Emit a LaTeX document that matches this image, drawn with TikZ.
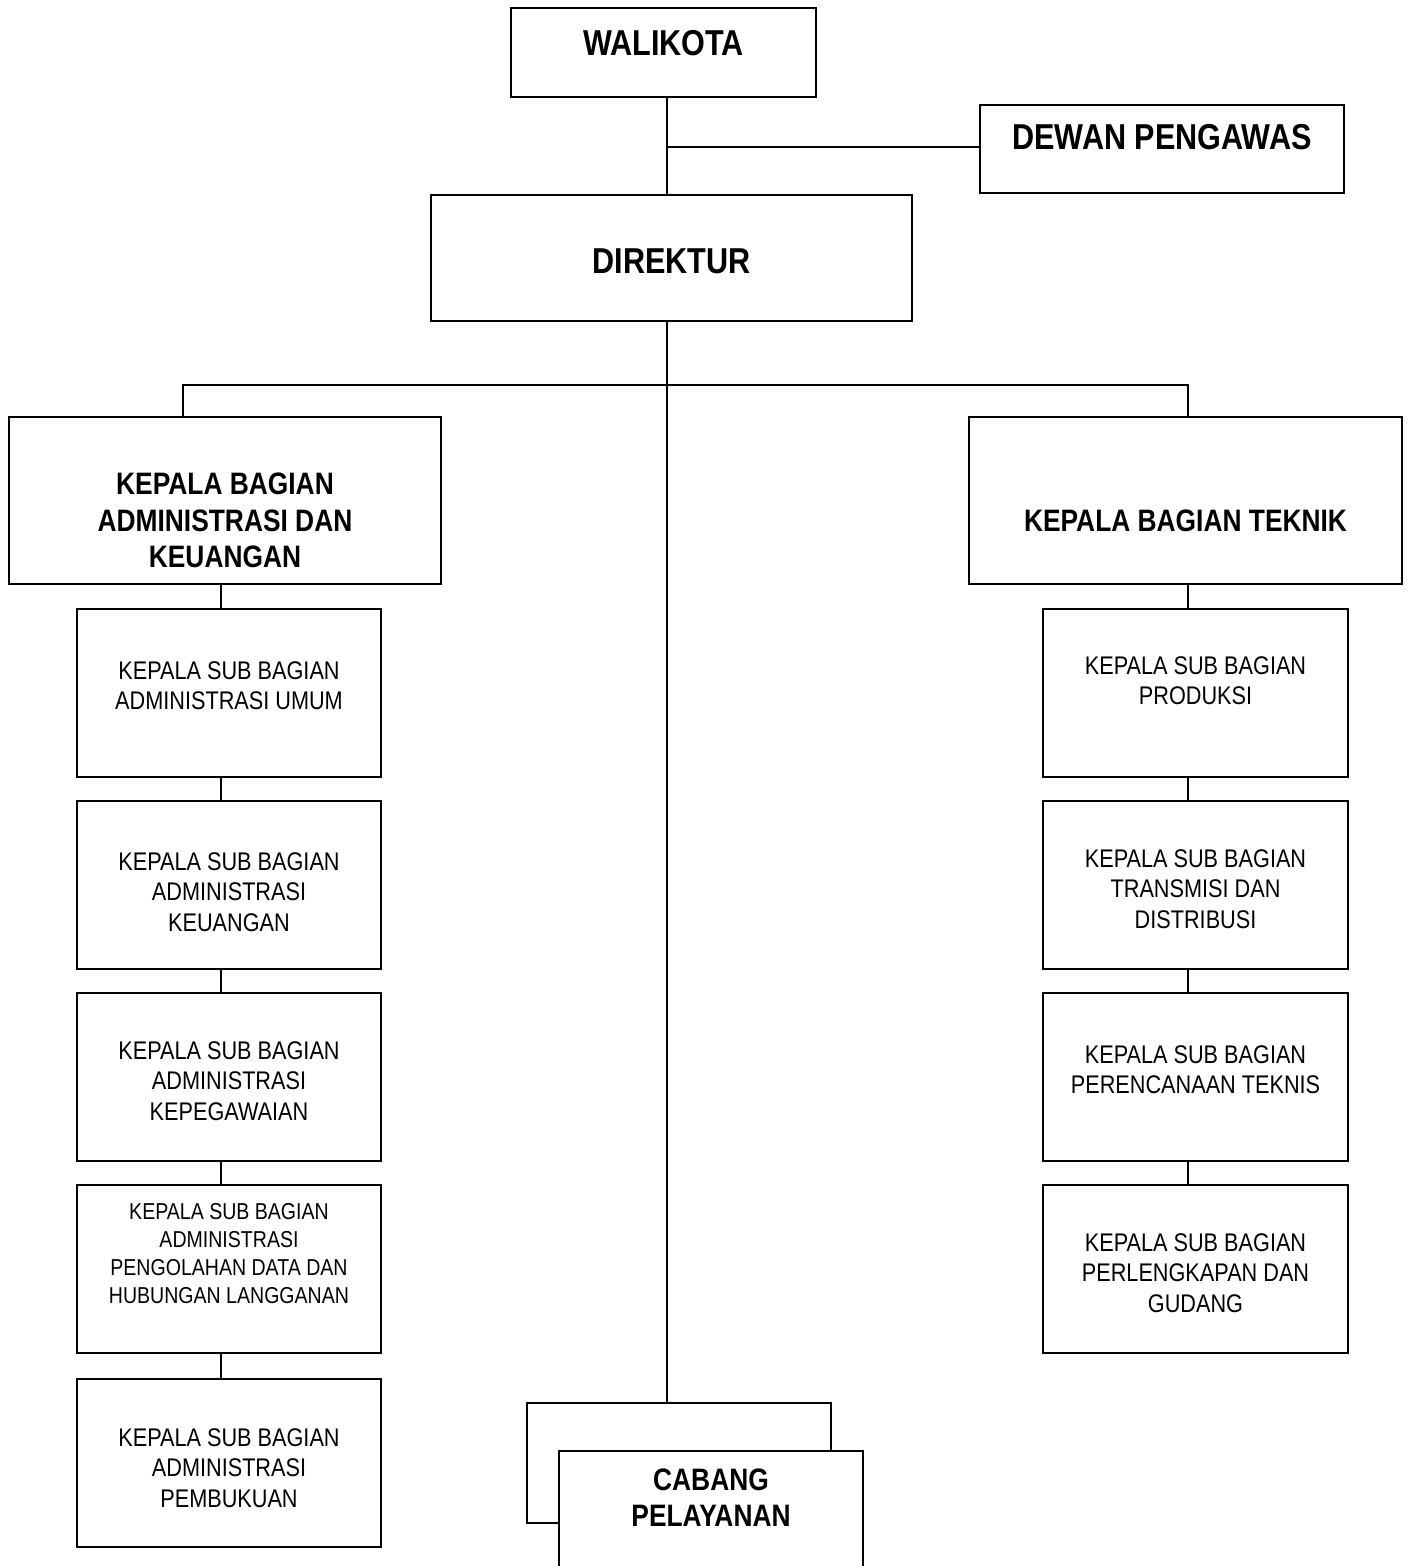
\documentclass[tikz,border=0pt]{standalone}
\usepackage{fontspec}
\setmainfont[FakeStretch=0.85]{Liberation Sans}
\usetikzlibrary{positioning}
\tikzset{
	topbox/.style={draw, rectangle, line width=1pt, align=center, fill=white, font=\bfseries\fontsize{18}{21}\selectfont},
	headbox/.style={draw, rectangle, line width=1pt, align=center, minimum width=216pt, minimum height=83.5pt, font=\bfseries\fontsize{15.5}{18.25}\selectfont},
	subbox/.style={draw, rectangle, line width=1pt, align=center, minimum width=152pt, minimum height=84pt, font=\fontsize{12.75}{15.25}\selectfont},
	% moves the text up inside its box
	lift/.style={text depth=#1},
}
% taller first line, moves the text down inside its box
\newcommand{\lowerby}[1]{\rule{0pt}{#1}}
\begin{document}
\begin{tikzpicture}[x=0.5pt, y=-0.5pt]
	\useasboundingbox (0,0) rectangle (1411,1566);
	
	\node (wali) [topbox, minimum width=152.5pt, minimum height=44.5pt, lift=10pt] at (663.5,52.5) {WALIKOTA};
	\node (dewan) [topbox, minimum width=182pt, minimum height=44pt, lift=12pt] at (1162,149) {DEWAN PENGAWAS};
	\node (dir) [topbox, minimum width=240.5pt, minimum height=63pt] at (671.5,258) {\lowerby{15.9pt}DIREKTUR};
	
	\node (kadm) [headbox] at (225,500.5) {\lowerby{31.1pt}KEPALA BAGIAN\\ADMINISTRASI DAN\\KEUANGAN};
	\node (ktek) [headbox, minimum width=216.5pt] at (1185.5,500.5) {\lowerby{31.1pt}KEPALA BAGIAN TEKNIK};
	
	% sub bagian administrasi dan keuangan
	\node (adm1) [subbox, lift=7.5pt] at (229,693) {KEPALA SUB BAGIAN\\ADMINISTRASI UMUM};
	\node (adm2) [subbox] at (229,885) {\lowerby{16.1pt}KEPALA SUB BAGIAN\\ADMINISTRASI\\KEUANGAN};
	\node (adm3) [subbox] at (229,1077) {\lowerby{13.1pt}KEPALA SUB BAGIAN\\ADMINISTRASI\\KEPEGAWAIAN};
	\node (adm4) [subbox, lift=16pt, font=\fontsize{11.5}{14}\selectfont] at (229,1269) {KEPALA SUB BAGIAN\\ADMINISTRASI\\PENGOLAHAN DATA DAN\\HUBUNGAN LANGGANAN};
	\node (adm5) [subbox] at (229,1463) {\lowerby{14.1pt}KEPALA SUB BAGIAN\\ADMINISTRASI\\PEMBUKUAN};
	
	% sub bagian teknik
	\node (tek1) [subbox, minimum width=152.5pt, lift=12.5pt] at (1195.5,693) {KEPALA SUB BAGIAN\\PRODUKSI};
	\node (tek2) [subbox, minimum width=152.5pt] at (1195.5,885) {\lowerby{13.1pt}KEPALA SUB BAGIAN\\TRANSMISI DAN\\DISTRIBUSI};
	\node (tek3) [subbox, minimum width=152.5pt, lift=7.5pt] at (1195.5,1077) {KEPALA SUB BAGIAN\\PERENCANAAN TEKNIS};
	\node (tek4) [subbox, minimum width=152.5pt] at (1195.5,1269) {\lowerby{13.1pt}KEPALA SUB BAGIAN\\PERLENGKAPAN DAN\\GUDANG};
	
	\node (cabb) [subbox, minimum height=60pt] at (679,1463) {};
	\node (cab) [topbox, minimum width=152pt, minimum height=75pt, lift=28pt, font=\bfseries\fontsize{15.5}{18}\selectfont] at (711,1526) {CABANG\\PELAYANAN};
	
	\coordinate (j1) at (667,147);
	\coordinate (bus) at (667,385);
	\coordinate (bl) at (183,385);
	\coordinate (br) at (1188,385);
	\coordinate (lc) at (221,0);
	\coordinate (rc) at (1188,0);
	
	\begin{scope}[line width=0.9pt, black]
		\draw (j1 |- wali.south) -- (j1 |- dir.north);
		\draw (j1) -- (dewan.west |- j1);
		\draw (bus |- dir.south) -- (bus |- cabb.north);
		\draw (bl |- kadm.north) -- (bl) -- (br) -- (br |- ktek.north);
		\foreach \a/\b in {kadm/adm1, adm1/adm2, adm2/adm3, adm3/adm4, adm4/adm5}
			\draw (lc |- \a.south) -- (lc |- \b.north);
		\foreach \a/\b in {ktek/tek1, tek1/tek2, tek2/tek3, tek3/tek4}
			\draw (rc |- \a.south) -- (rc |- \b.north);
	\end{scope}
	
\end{tikzpicture}
\end{document}
